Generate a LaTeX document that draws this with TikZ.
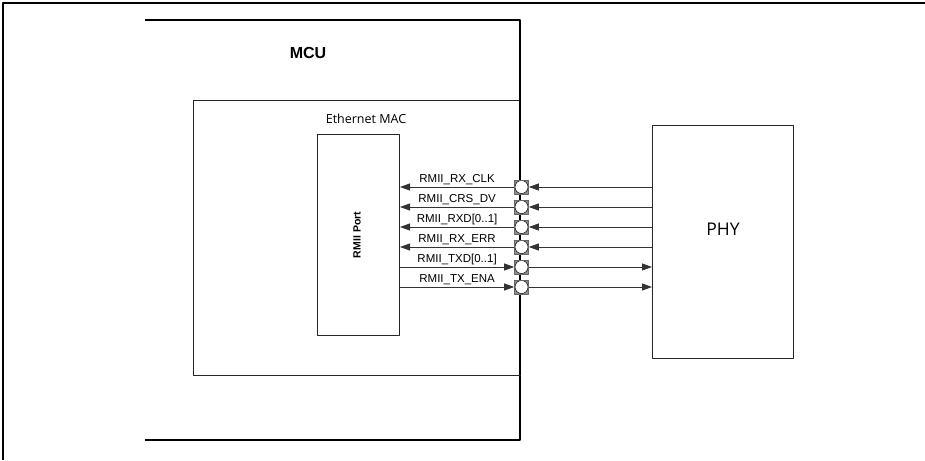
\documentclass[tikz,border=0pt]{standalone}
\usepackage{fontspec}
\setmainfont{Liberation Sans}
\newfontfamily\macfont{Open Sans}
\usetikzlibrary{arrows.meta}
\tikzset{
  blk/.style={draw=black!85, line width=1pt, inner sep=0pt, anchor=north west},
  sig/.style={draw=black!80, line width=0.9pt},
  siglbl/.style={font=\fontsize{11.5}{13}\selectfont, inner sep=1.5pt, above},
  pad/.style={rectangle, draw=black!60, fill=black!45, line width=0.6pt, minimum size=14pt, inner sep=0pt,
    path picture={\draw[black, line width=0.5pt, fill=white] (path picture bounding box.center) circle (6.5pt);}}
}
\begin{document}
\begin{tikzpicture}[x=1pt, y=-1pt, line join=round, >={Triangle[length=10pt,width=7pt]}]
\useasboundingbox (0,0) rectangle (925,460);
\draw[line width=1.3pt] (3,460)--(3,3)--(925,3);
\draw[line width=2.5pt] (145,20)--(520,20)--(520,440)--(145,440);
\node[font=\fontsize{16}{18}\selectfont\bfseries] (mcu) at (308,53) {MCU};
\node[blk, minimum width=327pt, minimum height=275pt] (mac) at (193,100) {};
\node[blk, minimum width=82pt, minimum height=201pt] (port) at (317,134) {};
\node[rotate=90, font=\fontsize{10.5}{12}\selectfont\bfseries] (portlbl) at (357,235) {RMII Port};
\node[font=\macfont\fontsize{12.5}{15}\selectfont] (maclbl) at (366,119) {Ethernet MAC};
\node[blk, minimum width=141pt, minimum height=233pt] (phy) at (652,125) {};
\node[font=\macfont\fontsize{17.5}{20}\selectfont] (phylbl) at (723,229) {PHY};
\draw[line width=2.5pt] (520,100)--(520,375);
\foreach \name [count=\i] in {RMII\_RX\_CLK, RMII\_CRS\_DV, RMII\_RXD[0..1], RMII\_RX\_ERR, RMII\_TXD[0..1], RMII\_TX\_ENA}
{
  \node[pad] (pad\i) at (521.5,167+20*\i) {};
  \ifnum\i<5
    \draw[sig, ->] (pad\i.west) -- node[siglbl] {\name} (pad\i.west-|port.east);
    \draw[sig, ->] (pad\i.east-|phy.west) -- (pad\i.east);
  \else
    \draw[sig, ->] (pad\i.west-|port.east) -- node[siglbl] {\name} (pad\i.west);
    \draw[sig, ->] (pad\i.east) -- (pad\i.east-|phy.west);
  \fi
}
\end{tikzpicture}
\end{document}
